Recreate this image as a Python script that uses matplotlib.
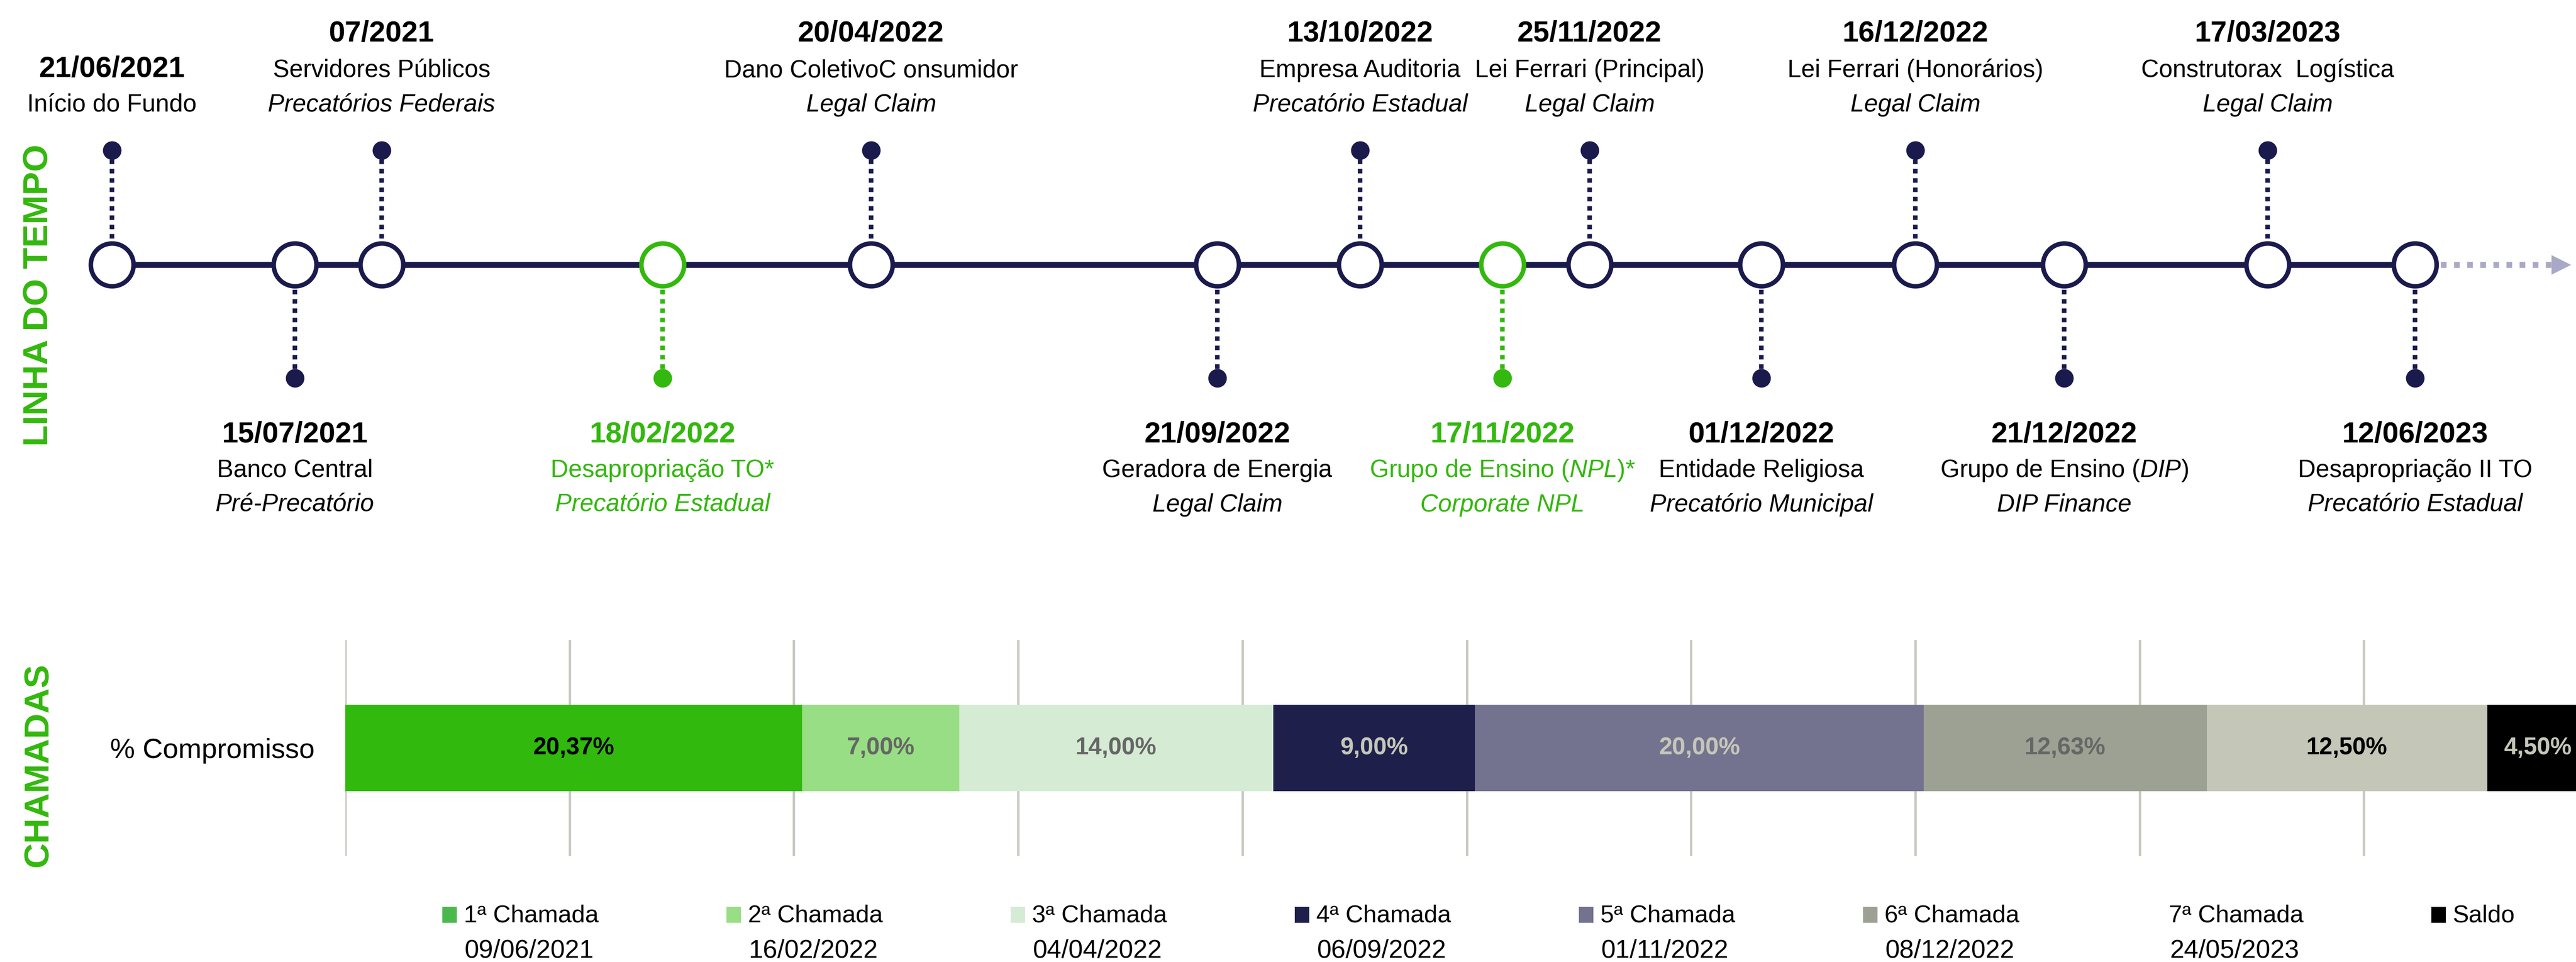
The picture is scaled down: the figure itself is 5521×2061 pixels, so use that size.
import matplotlib
matplotlib.use("Agg")
import matplotlib.pyplot as plt
from matplotlib.patches import Rectangle

plt.rcParams['font.family'] = ['Liberation Sans', 'DejaVu Sans']
plt.rcParams['mathtext.fontset'] = 'custom'
plt.rcParams['mathtext.rm'] = 'Liberation Sans'
plt.rcParams['mathtext.it'] = 'Liberation Sans:italic'
plt.rcParams['mathtext.bf'] = 'Liberation Sans:bold'

# --- dados da linha do tempo ---
event_dates = ['21/06/2021', '15/07/2021', '07/2021', '18/02/2022', '20/04/2022',
               '21/09/2022', '13/10/2022', '17/11/2022', '25/11/2022', '01/12/2022',
               '16/12/2022', '21/12/2022', '17/03/2023', '12/06/2023']
event_names = ['Início do Fundo', 'Banco Central', 'Servidores Públicos',
               'Desapropriação TO*', 'Dano ColetivoC onsumidor', 'Geradora de Energia',
               'Empresa Auditoria', r'Grupo de Ensino ($\mathit{NPL}$)*',
               'Lei Ferrari (Principal)', 'Entidade Religiosa',
               'Lei Ferrari (Honorários)', r'Grupo de Ensino ($\mathit{DIP}$)',
               'Construtorax  Logística', 'Desapropriação II TO']
event_types = ['', 'Pré-Precatório', 'Precatórios Federais', 'Precatório Estadual',
               'Legal Claim', 'Legal Claim', 'Precatório Estadual', 'Corporate NPL',
               'Legal Claim', 'Precatório Municipal', 'Legal Claim', 'DIP Finance',
               'Legal Claim', 'Precatório Estadual']
event_side = ['top', 'bottom'] * 7
event_npl = [False, False, False, True, False, False, False, True,
             False, False, False, False, False, False]

# posição de cada marco na linha (layout, em pixels)
timeline_x = [240, 632, 818, 1420, 1867, 2609, 2915, 3220, 3407, 3775, 4105, 4424, 4860, 5176]

# --- dados das chamadas ---
chamadas = ['1ª Chamada', '2ª Chamada', '3ª Chamada', '4ª Chamada', '5ª Chamada',
            '6ª Chamada', '7ª Chamada', 'Saldo']
chamada_datas = ['09/06/2021', '16/02/2022', '04/04/2022', '06/09/2022', '01/11/2022',
                 '08/12/2022', '24/05/2023', '']
percentuais = [20.37, 7.00, 14.00, 9.00, 20.00, 12.63, 12.50, 4.50]

cores = ['#31B90D', '#98DE84', '#D5EBD4', '#1F1F4C', '#73728F', '#9DA193', '#C4C7B8', '#000000']
cores_legenda = ['#4CB84C', '#98DE84', '#D5EBD4', '#1F1F4C', '#73728F', '#9DA193', '#FFFFFF', '#000000']
cores_rotulo = ['#000000', '#666666', '#666666', '#C4C7B8', '#C4C7B8', '#666666', '#000000', '#C4C7B8']

NAVY = '#1B1A4D'
GREEN = '#33B80D'
W, H = 5521, 2061

fig = plt.figure(figsize=(W / 100, H / 100), dpi=100)
fig.patch.set_facecolor('white')

# camada em pixels para a linha do tempo e legenda
ov = fig.add_axes([0, 0, 1, 1])
ov.set_xlim(0, W)
ov.set_ylim(H, 0)
ov.axis('off')

y_line = 567
y_top_dot = 322
y_bot_dot = 810

ov.plot([timeline_x[0], timeline_x[-1]], [y_line, y_line], color=NAVY, lw=9.2,
        solid_capstyle='butt', zorder=2)
ov.plot([timeline_x[-1] + 55, 5470], [y_line, y_line], color='#A9A8C6', lw=9.2,
        linestyle=(0, (0.95, 1.25)), zorder=2)
ov.plot([5489], [y_line], marker='>', ms=30, color='#A9A8C6', mec='none', zorder=2)

top_base = [89, 165, 239]
bot_base = [948, 1022, 1096]

for i, x in enumerate(timeline_x):
    c = GREEN if event_npl[i] else NAVY
    txt_c = GREEN if event_npl[i] else 'black'
    y_dot = y_top_dot if event_side[i] == 'top' else y_bot_dot
    ov.plot([x, x], [y_dot, y_line], color=c, lw=7, linestyle=(0, (1.0, 1.05)), zorder=3)
    ov.scatter([x], [y_dot], s=820, color=c, zorder=4, linewidths=0)
    ov.scatter([x], [y_line], s=4360, facecolor='white', edgecolor=c, linewidths=7, zorder=5)

    linhas = [(event_dates[i], 'bold', 'normal', 45),
              (event_names[i], 'normal', 'normal', 38)]
    if event_types[i]:
        linhas.append((event_types[i], 'normal', 'italic', 38))
    if event_side[i] == 'top':
        ys = top_base[-len(linhas):]
    else:
        ys = bot_base[:len(linhas)]
    for (t, fw, fs, sz), yy in zip(linhas, ys):
        ov.text(x, yy, t, ha='center', va='baseline', fontsize=sz, fontweight=fw,
                fontstyle=fs, color=txt_c)

ov.text(82, 632, 'LINHA DO TEMPO', rotation=90, ha='center', va='center',
        fontsize=54, fontweight='bold', color=GREEN)
ov.text(82, 1638, 'CHAMADAS', rotation=90, ha='center', va='center',
        fontsize=54, fontweight='bold', color=GREEN)

# legenda manual
for i, nome in enumerate(chamadas):
    lx = 948 + i * 609
    ov.add_patch(Rectangle((lx, 1943), 31, 34, facecolor=cores_legenda[i], edgecolor='none'))
    ov.text(lx + 46, 1975, nome, ha='left', va='baseline', fontsize=37.5)
    if chamada_datas[i]:
        ov.text(lx + 48, 2052, chamada_datas[i], ha='left', va='baseline', fontsize=40)

# barra empilhada
ax = fig.add_axes([740 / W, 1 - 1834 / H, 4807 / W, 463 / H])
ax.patch.set_alpha(0)
esquerda = 0
for i, v in enumerate(percentuais):
    bars = ax.barh([0], [v], left=esquerda, height=0.4, color=cores[i], zorder=3)
    ax.bar_label(bars, labels=[f'{v:.2f}%'.replace('.', ',')], label_type='center',
                 fontsize=37, fontweight='bold', color=cores_rotulo[i])
    esquerda += v

ax.set_xlim(0, 100)
ax.set_ylim(-0.5, 0.5)
ax.set_xticks(range(0, 101, 10))
ax.set_xticklabels([])
ax.grid(axis='x', color='#C8C9C0', lw=3.8, zorder=0)
ax.set_axisbelow(True)
ax.set_yticks([0])
ax.set_yticklabels(['% Compromisso'], fontsize=43)
ax.tick_params(axis='both', length=0)
ax.tick_params(axis='y', pad=47)
for s in ax.spines.values():
    s.set_visible(False)

fig.savefig('out.png', dpi=100)
